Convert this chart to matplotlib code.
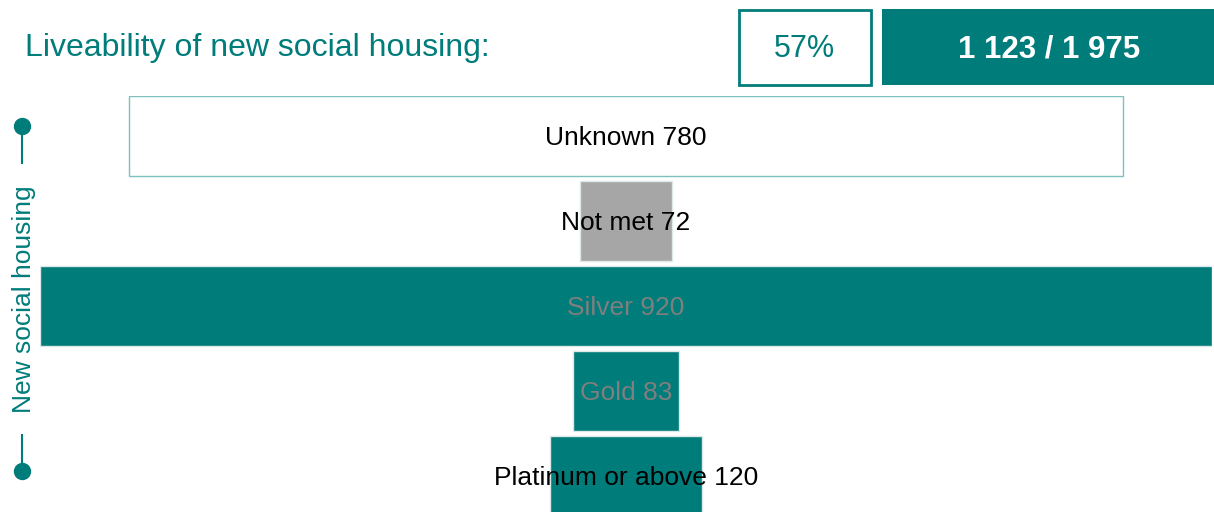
import matplotlib
matplotlib.use("Agg")
import matplotlib.pyplot as plt
from matplotlib.patches import Rectangle

plt.rcParams["font.family"] = ["Liberation Sans", "DejaVu Sans"]

# ── Data ──────────────────────────────────────────────────────────────────────
categories = ["Unknown", "Not met", "Silver", "Gold", "Platinum or above"]
values = [780, 72, 920, 83, 120]
met_levels = ["Silver", "Gold", "Platinum or above"]

TEAL = "#007C7A"
bar_colors = ["white", "#A6A6A6", TEAL, TEAL, TEAL]
edge_colors = ["#7FBFBF", "#DDE9E9", "#DDE9E9", "#DDE9E9", "#DDE9E9"]
label_colors = ["black", "black", "#7F7F7F", "#7F7F7F", "black"]

total = sum(values)
met = sum(v for c, v in zip(categories, values) if c in met_levels)


def fmt(n):
    return f"{n:,}".replace(",", " ")


W, H = 1214, 512
fig = plt.figure(figsize=(W / 100, H / 100), dpi=100)

# ── Funnel bars ───────────────────────────────────────────────────────────────
ax = fig.add_axes([40 / W, 0, 1172 / W, 416 / H])
half = max(values) / 2
ypos = list(range(len(categories)))
ax.barh(ypos, values, left=[-v / 2 for v in values], height=80 / 85,
        color=bar_colors, edgecolor=edge_colors, linewidth=1)
for y, c, v, tc in zip(ypos, categories, values, label_colors):
    ax.text(0, y + 0.03, f"{c} {v}", ha="center", va="center",
            fontsize=19, color=tc)
ax.set_xlim(-half, half)
ax.set_ylim(-0.47 + 416 / 85, -0.47)
ax.axis("off")

# ── Header and side label ─────────────────────────────────────────────────────
hd = fig.add_axes([0, 0, 1, 1])
hd.set_xlim(0, W)
hd.set_ylim(H, 0)
hd.axis("off")

hd.text(25, 48, "Liveability of new social housing:", fontsize=23,
        color=TEAL, ha="left", va="center")
hd.add_patch(Rectangle((738.5, 9.5), 132, 75, facecolor="white",
                       edgecolor=TEAL, linewidth=2))
hd.text(804, 49, f"{round(100 * met / total)}%", fontsize=22, color=TEAL,
        ha="center", va="center")
hd.add_patch(Rectangle((882, 9), 334, 76, facecolor=TEAL, edgecolor="none"))
hd.text(1049, 49, f"{fmt(met)} / {fmt(total)}", fontsize=22.5,
        fontweight="bold", color="white", ha="center", va="center")

hd.plot([22, 22], [126, 163], color=TEAL, lw=1.5)
hd.plot([22, 22], [435, 471], color=TEAL, lw=1.5)
hd.plot([22, 22], [126, 471], "o", color=TEAL, ms=11.5, linestyle="none")
hd.text(24, 299, "New social housing", rotation=90, fontsize=19, color=TEAL,
        ha="center", va="center")

fig.savefig("out.png", dpi=100)
